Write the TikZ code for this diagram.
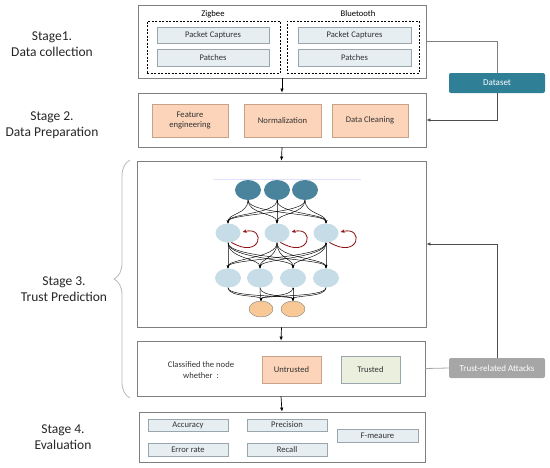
\documentclass[tikz,border=0pt]{standalone}
\usepackage{fontspec}
\setmainfont{Carlito}
\usepackage{xcolor}
\usetikzlibrary{arrows.meta,positioning,calc,decorations.pathreplacing,shapes.geometric}
\definecolor{frameline}{HTML}{7F7F7F}
\definecolor{paleblue}{HTML}{E6EEF2}
\definecolor{paleline}{HTML}{9AA6AE}
\definecolor{peach}{HTML}{FBD4B9}
\definecolor{peachline}{HTML}{C7A287}
\definecolor{palegreen}{HTML}{EBF0DE}
\definecolor{teal}{HTML}{2F7F97}
\definecolor{darknode}{HTML}{4A849C}
\definecolor{lightnode}{HTML}{C6DCE6}
\definecolor{outnode}{HTML}{F8C996}
\definecolor{loopred}{HTML}{8B0F0F}
\tikzset{
  stagebox/.style={draw=frameline,line width=0.8pt,inner sep=0pt},
  groupbox/.style={draw=black,dash pattern=on 2pt off 1.5pt,line width=0.5pt,inner sep=0pt},
  itembox/.style={draw=paleline,fill=paleblue,line width=0.7pt,inner sep=0pt,font=\fontsize{8.6}{10}\selectfont,text=black!80},
  prepbox/.style={draw=peachline,fill=peach,line width=0.7pt,inner sep=0pt,align=center,font=\fontsize{8.6}{10}\selectfont,text=black!80},
  sidebox/.style={rounded corners=2pt,inner sep=0pt,minimum width=96pt,minimum height=20pt,text=white,font=\fontsize{9}{10}\selectfont},
  stagelabel/.style={align=center,font=\fontsize{13.5}{16}\selectfont,text=black!85},
  arr/.style={-{Latex[length=4pt,width=3.5pt]},line width=0.7pt},
  neuron/.style={ellipse,inner sep=0pt},
  link/.style={-{Stealth[length=3pt,width=2.5pt]},line width=0.45pt}
}
\begin{document}
\begin{tikzpicture}[x=1pt,y=-1pt]
  \useasboundingbox (0,0) rectangle (550,467);
  % stage labels
  \node[stagelabel] (st1) at (52,44) {Stage1.\\Data collection};
  \node[stagelabel] (st2) at (52,125) {Stage 2.\\Data Preparation};
  \node[stagelabel] (st3) at (64,289) {Stage 3.\\Trust Prediction};
  \node[stagelabel] (st4) at (63,437) {Stage 4.\\Evaluation};
  \draw[gray!55,line width=0.8pt,decorate,decoration={brace,amplitude=16pt}] (130,398) -- (130,160);
  % stage 1
  \node[stagebox,minimum width=288,minimum height=73] (collect) at (282,41.5) {};
  \node[groupbox,minimum width=133,minimum height=52] (zig) at (213.5,47) {};
  \node[groupbox,minimum width=132,minimum height=52] (blue) at (353,47) {};
  \node[font=\fontsize{8.6}{10}\selectfont] (ziglab) at (213,14) {Zigbee};
  \node[font=\fontsize{8.6}{10}\selectfont] (bluelab) at (358,14) {Bluetooth};
  \node[itembox,minimum width=112,minimum height=16] (zpc) at (213,35) {Packet Captures};
  \node[itembox,minimum width=112,minimum height=17] (zpa) at (213,57.5) {Patches};
  \node[itembox,minimum width=113,minimum height=16] (bpc) at (354.5,35) {Packet Captures};
  \node[itembox,minimum width=113,minimum height=17] (bpa) at (354.5,57.5) {Patches};
  % stage 2
  \node[stagebox,minimum width=288,minimum height=54] (prep) at (282,120) {};
  \node[prepbox,minimum width=76,minimum height=33] (feat) at (190,120.5) {Feature\\engineering};
  \node[prepbox,minimum width=77,minimum height=33] (norm) at (282.5,120.5) {Normalization};
  \node[prepbox,minimum width=76,minimum height=33] (clean) at (370,120.5) {Data Cleaning};
  \node[sidebox,fill=teal] (dataset) at (497,83) {Dataset};
  \draw[frameline,line width=0.8pt] (collect.east) -| (dataset.north);
  \draw[arr,frameline!60!black] (dataset.south) |- (prep.east);
  \draw[arr] (collect.south) -- (prep.north);
  % stage 3
  \node[stagebox,minimum width=289,minimum height=166] (net) at (281.5,244) {};
  \draw[blue!12,line width=0.6pt] (213,179) -- (361,179);
  \foreach \n/\x in {1/248,2/277,3/305}
    \node[neuron,fill=darknode,minimum width=26,minimum height=20] (t\n) at (\x,190) {};
  \foreach \n/\x in {1/228,2/277,3/326}
    \node[neuron,fill=lightnode,minimum width=25,minimum height=19] (h\n) at (\x,233) {};
  \foreach \n/\x in {1/228,2/260,3/293,4/326}
    \node[neuron,fill=lightnode,minimum width=26,minimum height=19] (g\n) at (\x,278) {};
  \foreach \n/\x in {1/261,2/293}
    \node[neuron,fill=outnode,draw=gray,line width=0.4pt,minimum width=24,minimum height=16] (o\n) at (\x,309) {};
  \foreach \i in {1,2,3}
    \foreach \j in {1,2,3}
      \draw[link] (t\i.south) .. controls +(0,14) and +(0,-10) .. (h\j.north);
  \foreach \i in {1,2,3}
    \foreach \j in {1,2,3,4}
      \draw[link] (h\i.south) .. controls +(0,16) and +(0,-10) .. (g\j.north);
  \foreach \i in {1,2,3,4}
    \foreach \j in {1,2}
      \draw[link] (g\i.south) .. controls +(0,10) and +(0,-6) .. (o\j.north);
  \foreach \n in {1,2,3}
    \draw[loopred,line width=0.8pt,-{Stealth[length=4pt,width=3.5pt]}] (h\n.-70) .. controls +(30,18) and +(24,-6) .. ($(h\n.east)+(2,-1)$);
  \node[stagebox,minimum width=288,minimum height=55] (cls) at (281,368.5) {};
  \node[align=center,font=\fontsize{8.6}{10.5}\selectfont,text=black!80] (clstext) at (201,370) {Classified the node\\whether \ :};
  \node[prepbox,minimum width=59,minimum height=27] (untr) at (291.5,369.5) {Untrusted};
  \node[prepbox,draw=paleline,fill=palegreen,minimum width=59,minimum height=27] (tr) at (370.5,369.5) {Trusted};
  \node[sidebox,fill=gray!70] (attack) at (497,368) {Trust-related Attacks};
  \draw[gray!70,line width=0.8pt] (attack.west) -- (cls.east);
  \draw[arr,frameline!60!black] (attack.north) |- (net.east);
  \draw[arr] (prep.south) -- (net.north);
  \draw[arr] (net.south) -- (cls.north);
  % stage 4
  \node[stagebox,minimum width=286,minimum height=50] (eval) at (282,437) {};
  \node[itembox,minimum width=80,minimum height=12] (acc) at (188,425) {Accuracy};
  \node[itembox,minimum width=80,minimum height=13] (err) at (188,449.5) {Error rate};
  \node[itembox,minimum width=80,minimum height=12] (prec) at (287,425) {Precision};
  \node[itembox,minimum width=80,minimum height=13] (rec) at (287,449.5) {Recall};
  \node[itembox,minimum width=81,minimum height=13] (fm) at (377.5,435.5) {F-meaure};
  \draw[arr] (cls.south) -- (eval.north);
\end{tikzpicture}
\end{document}
